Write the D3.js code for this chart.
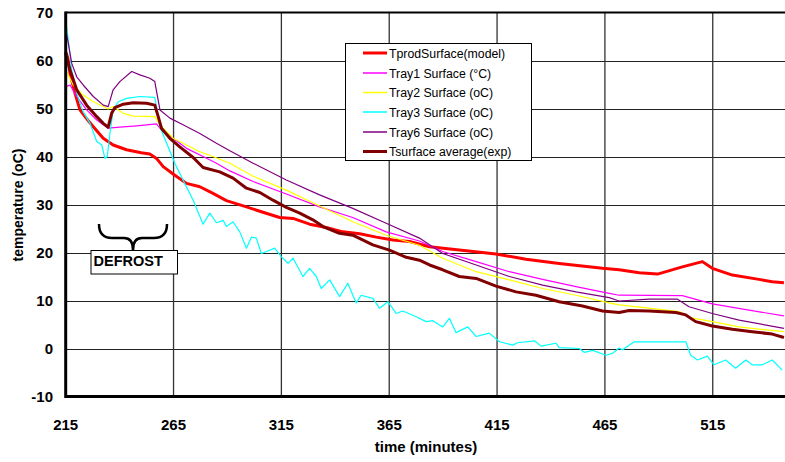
<!DOCTYPE html>
<html>
<head>
<meta charset="utf-8">
<script src="https://cdn.jsdelivr.net/npm/d3@7"></script>
<style>
  body { margin: 0; background: #fff; }
  svg { display: block; font-family: Arial, "Liberation Sans", sans-serif; }
</style>
</head>
<body>
<div id="chart"></div>
<script>
// time (minutes), temperature (oC)
var tprodModel = [[215,61.8],[216,60.5],[217,57.3],[219.3,53.2],[221.6,49.7],[224.5,48],[227.8,46.2],[232.4,43.8],[237,42.4],[243.2,41.4],[250,40.8],[254,40.5],[257.1,39.6],[260.2,37.9],[265.6,36.1],[271,34.4],[277.2,33.7],[283.3,32.3],[289.5,30.8],[298.8,29.5],[305,28.6],[314.2,27.3],[320.4,27.1],[328.1,25.9],[335.8,25.2],[343.5,24.3],[351.3,23.9],[359,23.2],[366.7,22.6],[374.4,22.3],[383.7,21.2],[397.5,20.5],[414.5,19.7],[428.4,18.6],[443.8,17.7],[463.9,16.7],[471.6,16.4],[480.9,15.8],[489.4,15.5],[500.9,17.0],[510.2,18.1],[514.8,16.7],[524.1,15.3],[536.4,14.4],[542.6,13.9],[548,13.7]]

var tray1 = [[215,54.5],[217,54.9],[220.1,52.5],[224.7,49.7],[229.4,47.6],[234.7,45.9],[240.1,46.1],[247.9,46.4],[257.1,46.8],[259.4,45.5],[264.8,43.8],[271,41.7],[278.7,40.0],[284.9,38.6],[291.1,37.0],[301.9,34.8],[317.3,32.2],[332.7,29.5],[348.1,27.3],[363.6,24.3],[379,22.4],[389.8,20.2],[405.3,18.1],[420.7,16.0],[436.1,14.4],[451.6,12.9],[467,11.5],[471.6,11.1],[500.9,11.0],[514.8,9.3],[531.8,8.0],[548,6.8]]

var tray2 = [[215,58],[218.5,54.9],[223.1,52.8],[227.8,51.4],[232.4,50.4],[234.7,49.9],[237,50.4],[241.7,49],[246.3,48.4],[256.3,48.3],[258.7,46.6],[264.8,43.8],[271,42.4],[277.2,41.0],[283.3,40.0],[291.1,38.6],[301.9,35.9],[317.3,33.0],[332.7,29.7],[348.1,26.4],[363.6,23.6],[379,21.5],[389.8,18.8],[405.3,16.0],[420.7,14.3],[436.1,12.5],[451.6,11.1],[467,9.5],[471.6,9.1],[485.5,8.4],[499.4,7.7],[504,6.5],[514.8,5.6],[527.2,4.5],[548,3.5]]

var tray3 = [[215.1,68.1],[216.2,64.3],[217.8,58],[220.1,53.2],[223.1,49.3],[226.3,46.9],[229.4,43.1],[231.7,42.4],[233.2,39.6],[234.3,40.0],[235.5,44.8],[237,49.7],[239.4,51.4],[243.2,52.1],[249.4,52.5],[256.3,52.3],[257.4,49.7],[258.7,46.2],[261.8,42.75],[265.6,38.6],[269.4,35.1],[274.1,30.9],[278.7,25.9],[281.8,28.2],[284.9,26.2],[288,26.7],[289.5,25.4],[292.6,26.4],[295.7,24.3],[298.8,20.9],[301.1,23.2],[303.4,23.0],[305.7,19.8],[308.1,20.2],[311.9,20.9],[315,19.1],[318.1,17.75],[320.4,18.8],[325,15.0],[328.1,16.7],[331.2,15.0],[333.5,12.5],[337.4,14.3],[342,10.8],[345.8,13.6],[349.7,9.5],[352,11.1],[357.4,10.45],[360.5,8.4],[364.4,9.75],[368.2,7.3],[371.3,7.8],[377.5,6.6],[382.1,5.6],[385.2,5.8],[389.8,4.5],[392.9,6.3],[396,3.3],[401.4,4.5],[405.3,2.5],[411.4,3.2],[416.1,1.4],[422.2,0.7],[424.5,1.2],[432.3,1.6],[435.4,0.5],[442.3,1.1],[443.8,0.2],[453.1,0],[455.4,-0.8],[459.3,-0.4],[465.5,-1.4],[468.5,-1],[471.6,0.1],[473.2,-0.3],[474.7,0.2],[478.6,1.4],[502.5,1.4],[504.8,-1.4],[507.9,-2.4],[512.5,-1.6],[515.6,-3.4],[521,-2.4],[525.6,-4.1],[530.3,-2.4],[533.3,-3.4],[538,-3.4],[542.6,-2.4],[547.2,-4.5]]

var tray6 = [[215,66.4],[216.2,63.6],[217.8,59.4],[220.1,56.6],[223.1,54.9],[227.8,52.5],[232.4,50.7],[234.7,50.4],[237,53.9],[240.1,55.6],[245.6,57.7],[249.4,57.0],[254,56.3],[256.3,55.6],[258.7,49.7],[263.3,48.0],[269.4,46.6],[277.2,44.8],[284.9,42.75],[291.1,41.2],[301.9,38.6],[317.3,35.1],[332.7,32.0],[348.1,29.2],[363.6,26.1],[379,23.0],[389.8,19.8],[405.3,17.4],[420.7,15.0],[436.1,13.2],[451.6,11.8],[467,10.6],[471.6,9.9],[485.5,10.3],[498.5,10.3],[504,8.7],[514.8,7.3],[527.2,5.9],[548,4.2]]

var tsurfAvg = [[215,61.5],[217,58],[220.1,53.9],[224.7,50.7],[229.4,48.3],[232.4,46.9],[234.7,46.1],[236.3,49],[237.8,50.2],[241.7,50.9],[246.3,51.2],[252.5,51.1],[256.3,50.7],[257.9,48.3],[259.4,45.9],[263.3,43.8],[267.9,42.0],[274.1,39.8],[278.7,37.7],[286.4,36.8],[292.6,35.5],[298.8,33.4],[305,32.5],[311.1,30.9],[317.3,29.4],[323.5,28.2],[329.6,26.8],[334.3,25.4],[341.9,24],[348.1,23.6],[357.4,21.6],[365.1,20.5],[372.9,19.0],[379,18.4],[383.7,17.4],[389.8,16.4],[397.5,15.0],[405.3,14.6],[414.5,13.0],[423.8,11.8],[433,11.1],[443.8,9.75],[454.6,8.85],[463.9,7.8],[471.6,7.5],[476.2,7.9],[485.5,7.8],[497.9,7.5],[502.5,7.0],[507.1,5.6],[514.8,4.7],[524.1,4.0],[533.3,3.5],[542.6,3.0],[548,2.3]]

var seriesNames = ["TprodSurface(model)", "Tray1 Surface (°C)", "Tray2 Surface (oC)", "Tray3 Surface (oC)", "Tray6 Surface (oC)", "Tsurface average(exp)"]
var xTicks = [215, 265, 315, 365, 415, 465, 515]
var yTicks = [-10, 0, 10, 20, 30, 40, 50, 60, 70]

var series = [tprodModel, tray1, tray2, tray3, tray6, tsurfAvg]
var colors = ["#ff0000", "#ff00ff", "#ffff00", "#00ffff", "#800080", "#800000"]
var widths = [3, 1.2, 1.2, 1.2, 1.2, 3]

var width = 785,
    height = 462

var svg = d3.select("#chart")
  .append("svg")
    .attr("width", width)
    .attr("height", height)

var x = d3.scaleLinear().domain([215, 548.5]).range([65.7, 785])
var y = d3.scaleLinear().domain([-10, 70]).range([396.5, 12.5])

// grid
svg.selectAll("hgrid")
  .data(yTicks.filter(function(d){ return d > -10 && d < 70 }))
  .enter()
  .append("line")
    .attr("x1", x(215))
    .attr("x2", width)
    .attr("y1", function(d){ return Math.round(y(d)) + 0.5 })
    .attr("y2", function(d){ return Math.round(y(d)) + 0.5 })
    .attr("stroke", "#222")
    .attr("stroke-width", 1)

svg.selectAll("vgrid")
  .data(xTicks.filter(function(d){ return d > 215 }))
  .enter()
  .append("line")
    .attr("x1", function(d){ return x(d) })
    .attr("x2", function(d){ return x(d) })
    .attr("y1", y(70))
    .attr("y2", y(-10))
    .attr("stroke", "#333")
    .attr("stroke-width", 1.3)

// lines
var line = d3.line()
  .x(function(d){ return x(d[0]) })
  .y(function(d){ return y(d[1]) })

svg.selectAll("series")
  .data(series)
  .enter()
  .append("path")
    .attr("d", line)
    .attr("fill", "none")
    .attr("stroke", function(d, i){ return colors[i] })
    .attr("stroke-width", function(d, i){ return widths[i] })
    .attr("stroke-linejoin", "round")

// frame
svg.append("line")
  .attr("x1", x(215)).attr("x2", width)
  .attr("y1", y(70)).attr("y2", y(70))
  .attr("stroke", "#000").attr("stroke-width", 2)
svg.append("line")
  .attr("x1", x(215)).attr("x2", width)
  .attr("y1", y(-10)).attr("y2", y(-10))
  .attr("stroke", "#000").attr("stroke-width", 3)
svg.append("line")
  .attr("x1", x(215)).attr("x2", x(215))
  .attr("y1", y(70) - 1).attr("y2", y(-10) + 1.5)
  .attr("stroke", "#000").attr("stroke-width", 3)

// tick labels
svg.selectAll("ylabels")
  .data(yTicks)
  .enter()
  .append("text")
    .attr("x", 53)
    .attr("y", function(d){ return y(d) + 5.5 })
    .attr("text-anchor", "end")
    .style("font-size", "15px")
    .style("font-weight", "bold")
    .text(function(d){ return d })

svg.selectAll("xlabels")
  .data(xTicks)
  .enter()
  .append("text")
    .attr("x", function(d){ return x(d) })
    .attr("y", 430)
    .attr("text-anchor", "middle")
    .style("font-size", "15px")
    .style("font-weight", "bold")
    .text(function(d){ return d })

svg.append("text")
  .attr("x", 426)
  .attr("y", 452)
  .attr("text-anchor", "middle")
  .style("font-size", "15px")
  .style("font-weight", "bold")
  .text("time (minutes)")

svg.append("text")
  .attr("transform", "translate(23," + 205 + ") rotate(-90)")
  .attr("text-anchor", "middle")
  .style("font-size", "14px")
  .style("font-weight", "bold")
  .text("temperature (oC)")

// legend
svg.append("rect")
  .attr("x", 345.5).attr("y", 43.5)
  .attr("width", 186).attr("height", 117)
  .attr("fill", "#fff").attr("stroke", "#000").attr("stroke-width", 1)

var legendY = [53, 73, 92.5, 112, 132, 151.5]

svg.selectAll("legendlines")
  .data(seriesNames)
  .enter()
  .append("line")
    .attr("x1", 363).attr("x2", 387)
    .attr("y1", function(d, i){ return legendY[i] })
    .attr("y2", function(d, i){ return legendY[i] })
    .attr("stroke", function(d, i){ return colors[i] })
    .attr("stroke-width", function(d, i){ return widths[i] > 2 ? 3 : 1.5 })

svg.selectAll("legendlabels")
  .data(seriesNames)
  .enter()
  .append("text")
    .attr("x", 389)
    .attr("y", function(d, i){ return legendY[i] + 4.5 })
    .style("font-size", "12.3px")
    .text(function(d){ return d })

// DEFROST note
svg.append("path")
  .attr("d", "M99,224 Q99,238 112,238 L124,238 Q133,238 133,250 M133,250 Q133,238 142,238 L154,238 Q167,238 167,224")
  .attr("fill", "none")
  .attr("stroke", "#000")
  .attr("stroke-width", 2.5)

svg.append("rect")
  .attr("x", 91).attr("y", 250.5)
  .attr("width", 86.5).attr("height", 23.5)
  .attr("fill", "#fff").attr("stroke", "#000").attr("stroke-width", 1)

svg.append("text")
  .attr("x", 93.5)
  .attr("y", 266)
  .style("font-size", "14.5px")
  .style("font-weight", "bold")
  .text("DEFROST")
</script>
</body>
</html>
